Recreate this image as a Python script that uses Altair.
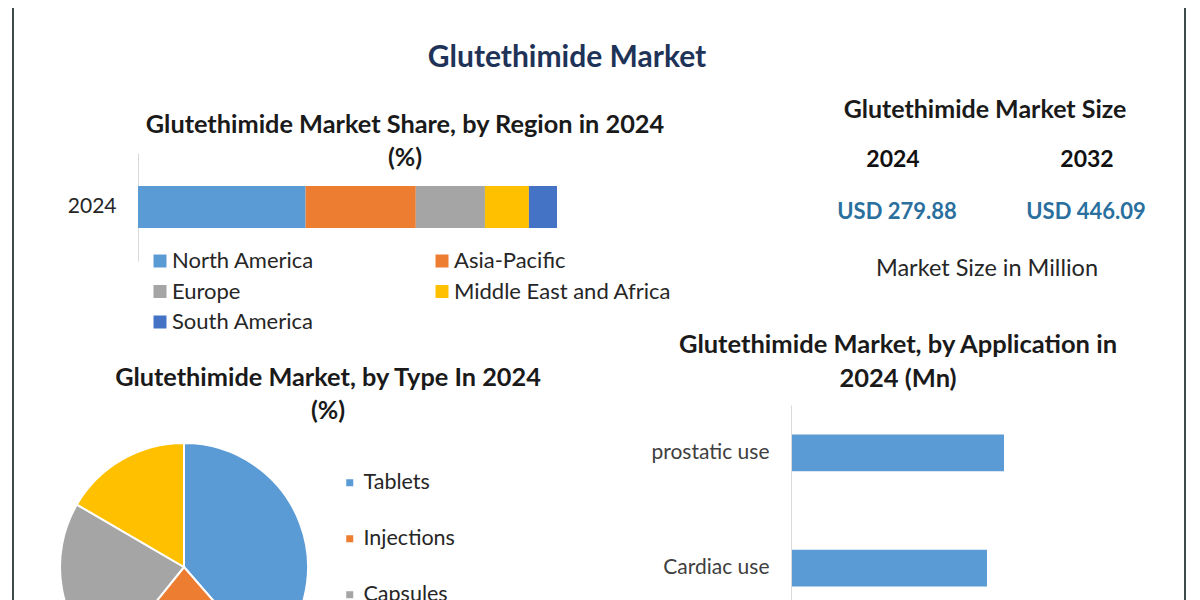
import altair as alt
import pandas as pd

FONT = "Lato"

# ---------------- data ----------------
regions = ["North America", "Asia-Pacific", "Europe", "Middle East and Africa", "South America"]
region_share = [40.0, 26.3, 16.5, 10.5, 6.7]
region_year = "2024"
region_colors = ["#5b9bd5", "#ed7d31", "#a5a5a5", "#ffc000", "#4472c4"]
# legend reading order (columns filled top to bottom)
region_legend_order = ["North America", "Europe", "South America", "Asia-Pacific", "Middle East and Africa"]

types = ["Tablets", "Injections", "Capsules", "Others"]
type_share = [38.6, 22.2, 22.6, 16.6]
type_colors = ["#5b9bd5", "#ed7d31", "#a5a5a5", "#ffc000"]

applications = ["prostatic use", "Cardiac use"]
application_value = [145.8, 134.1]

size_years = ["2024", "2032"]
size_values = [279.88, 446.09]

W, H = 1184, 592

reg_df = pd.DataFrame({"Year": region_year, "Region": regions, "Share": region_share,
                       "ord": list(range(len(regions)))})
type_df = pd.DataFrame({"Type": types, "Share": type_share, "ord": list(range(len(types)))})
app_df = pd.DataFrame({"Application": applications, "Value": application_value})
size_df = pd.DataFrame({"Year": size_years, "Value": size_values})

color_of = dict(zip(regions, region_colors))
legend_colors = [color_of[r] for r in region_legend_order]


def text(t, x, y, size, weight="bold", color="#1a1a1a"):
    return alt.Chart(alt.Data(values=[{}])).mark_text(
        font=FONT, fontSize=size, fontWeight=weight, color=color,
        align="center", baseline="middle"
    ).encode(x=alt.value(x), y=alt.value(y), text=alt.value(t))


def vline(x):
    return alt.Chart(alt.Data(values=[{}])).mark_rule(color="#3d4b4a", strokeWidth=2).encode(
        x=alt.value(x), y=alt.value(0), y2=alt.value(H))


# ---------------- region stacked bar ----------------
region_bar = alt.Chart(reg_df).mark_bar(size=42).encode(
    y=alt.Y("Year:N", scale=alt.Scale(range=[145, 253]),
            axis=alt.Axis(title=None, orient="left", offset=-130, ticks=False, labelPadding=22,
                          labelFontSize=21, labelFont=FONT, labelColor="#262626",
                          domainColor="#d9d9d9", domainWidth=1)),
    x=alt.X("Share:Q", stack="zero", scale=alt.Scale(domain=[0, 100], range=[130, 549]), axis=None),
    color=alt.Color("Region:N",
                    scale=alt.Scale(domain=region_legend_order, range=legend_colors),
                    legend=alt.Legend(title=None, orient="none", legendX=141, legendY=242,
                                      columns=2, columnPadding=116, rowPadding=8.5,
                                      symbolType="square", symbolSize=169, symbolStrokeWidth=0,
                                      labelFontSize=22, labelFont=FONT, labelColor="#262626",
                                      labelOffset=1, labelLimit=400)),
    order=alt.Order("ord:Q"),
)

# ---------------- type pie ----------------
type_pie = alt.Chart(type_df).mark_arc(outerRadius=124, stroke="white", strokeWidth=2).encode(
    theta=alt.Theta("Share:Q", stack=True),
    color=alt.Color("Type:N", sort=types,
                    scale=alt.Scale(domain=types, range=type_colors),
                    legend=alt.Legend(title=None, orient="none", legendX=331, legendY=464,
                                      rowPadding=33, symbolType="square", symbolSize=49,
                                      symbolStrokeWidth=0, labelFontSize=21.5, labelFont=FONT,
                                      labelColor="#262626", labelOffset=3, labelLimit=300)),
    order=alt.Order("ord:Q"),
    x=alt.value(176),
    y=alt.value(559),
)

# ---------------- application bars ----------------
app_bar = alt.Chart(app_df).mark_bar(color="#5b9bd5").encode(
    y=alt.Y("Application:N", sort=applications,
            scale=alt.Scale(range=[397, 608], paddingInner=0.68, paddingOuter=0.256),
            axis=alt.Axis(title=None, orient="left", offset=-783, ticks=False, labelPadding=22,
                          labelFontSize=21, labelFont=FONT, labelColor="#404040",
                          domainColor="#d9d9d9", domainWidth=1, labelLimit=300)),
    x=alt.X("Value:Q", scale=alt.Scale(domain=[0, 150], range=[784, 1002.1]), axis=None),
)

# ---------------- market size ----------------
size_years_text = alt.Chart(size_df).mark_text(
    font=FONT, fontSize=23, fontWeight="bold", color="#111111", baseline="middle"
).encode(
    x=alt.X("Year:N", scale=alt.Scale(type="point", domain=size_years, range=[885, 1079], padding=0),
            axis=None),
    y=alt.value(152),
    text="Year:N",
)

size_values_text = alt.Chart(size_df).transform_calculate(
    Label="'USD ' + format(datum.Value, '.2f')"
).mark_text(
    font=FONT, fontSize=22, fontWeight="bold", color="#2a6f9e", baseline="middle"
).encode(
    x=alt.X("Year:N", scale=alt.Scale(type="point", domain=size_years, range=[889, 1078], padding=0),
            axis=None),
    y=alt.value(204),
    text="Label:N",
)

layers = [
    vline(5), vline(1177),
    text("Glutethimide Market", 559, 50, 30, color="#1f3358"),
    text("Glutethimide Market Share, by Region in 2024", 397, 117, 25.3),
    text("(%)", 397, 150, 25),
    text("Glutethimide Market Size", 977, 102, 25),
    text("Market Size in Million", 979, 261, 23.5, weight="normal", color="#262626"),
    text("Glutethimide Market, by Type In 2024", 320, 370, 25.3),
    text("(%)", 320, 403, 25),
    text("Glutethimide Market, by Application in", 890, 337, 25.5),
    text("2024 (Mn)", 890, 371, 25.5),
    region_bar, type_pie, app_bar, size_years_text, size_values_text,
]

chart = alt.layer(*layers).resolve_scale(
    x="independent", y="independent", color="independent", theta="independent"
).properties(
    width=W, height=H, background="white", padding=0,
    autosize=alt.AutoSizeParams(type="none"),
).configure_view(stroke=None)

chart.save("out.html", embed_options={"renderer": "svg", "actions": False})
